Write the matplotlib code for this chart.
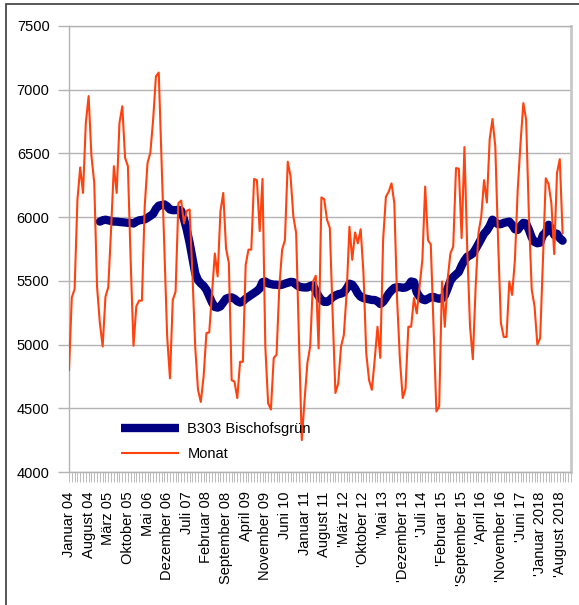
import matplotlib
matplotlib.use("Agg")
import matplotlib.pyplot as plt
from matplotlib.patches import Rectangle
from matplotlib.lines import Line2D
from matplotlib.ticker import MultipleLocator, FixedLocator
import numpy as np

plt.rcParams['font.family'] = ['Liberation Sans', 'DejaVu Sans']

# Monthly values, January 2004 .. September 2018
monat = [
    4800, 5370, 5435, 6135, 6390, 6190, 6740, 6950, 6480, 6270, 5455, 5170,
    4985, 5375, 5450, 5900, 6400, 6190, 6740, 6870, 6465, 6400, 5650, 4990,
    5300, 5345, 5345, 6085, 6425, 6505, 6765, 7105, 7135, 6450, 5770, 5065,
    4735, 5350, 5415, 6110, 6130, 5950, 6050, 6060, 5560, 4985, 4645, 4550,
    4750, 5090, 5095, 5400, 5715, 5535, 6045, 6190, 5755, 5640, 4720, 4710,
    4580, 4865, 4865, 5625, 5745, 5745, 6300, 6290, 5890, 6300, 4985, 4540,
    4490, 4895, 4920, 5455, 5745, 5820, 6435, 6320, 6005, 5875, 5035, 4250,
    4565, 4855, 4985, 5495, 5540, 4970, 6155, 6140, 5980, 5915, 5245, 4620,
    4695, 4985, 5075, 5405, 5925, 5665, 5880, 5795, 5905, 5560, 4930, 4720,
    4645, 4880, 5140, 4895, 5820, 6160, 6200, 6265, 6110, 5350, 4880, 4580,
    4655, 5140, 5140, 5365, 5245, 5455, 5665, 6240, 5820, 5785, 5140, 4475,
    4515, 5495, 5140, 5510, 5715, 5770, 6385, 6380, 5835, 6550, 5750, 5140,
    4885, 5455, 5875, 6005, 6290, 6115, 6610, 6770, 6555, 5820, 5170, 5060,
    5060, 5495, 5390, 5665, 6215, 6580, 6895, 6765, 6005, 5430, 5300, 5000,
    5050, 5665, 6305, 6260, 6110, 5710, 6345, 6455, 5875,
]

# Moving average series "B303 Bischofsgrün", starting December 2004
trend_start = 11
b303 = [
    5965, 5975, 5980, 5975, 5970, 5965, 5965, 5962, 5960, 5958, 5955, 5955,
    5950, 5965, 5975, 5978, 5982, 5995, 6010, 6025, 6065, 6090, 6095, 6100,
    6085, 6060, 6055, 6055, 6058, 6050, 5985, 5900, 5800, 5680, 5560, 5505,
    5480, 5460, 5430, 5380, 5330, 5295, 5290, 5300, 5330, 5360, 5368, 5370,
    5360, 5340, 5330, 5340, 5360, 5375, 5390, 5405, 5420, 5440, 5490, 5495,
    5480, 5475, 5470, 5470, 5466, 5470, 5478, 5485, 5492, 5490, 5470, 5455,
    5450, 5448, 5448, 5460, 5466, 5420, 5380, 5350, 5335, 5335, 5350, 5372,
    5385, 5395, 5400, 5410, 5440, 5478, 5470, 5440, 5400, 5375, 5365, 5360,
    5355, 5350, 5350, 5340, 5318, 5335, 5365, 5400, 5425, 5445, 5450, 5450,
    5445, 5448, 5460, 5495, 5490, 5410, 5375, 5355, 5348, 5360, 5372, 5374,
    5365, 5360, 5362, 5385, 5440, 5500, 5530, 5550, 5570, 5620, 5660, 5690,
    5700, 5715, 5750, 5790, 5830, 5870, 5895, 5930, 5980, 5960, 5945, 5945,
    5955, 5960, 5965, 5940, 5905, 5900, 5930, 5955, 5950, 5900, 5840, 5805,
    5795, 5800, 5860, 5880, 5940, 5910, 5860, 5870, 5835, 5815,
]

tick_labels = [
    "Januar 04", "August 04", "März 05", "Oktober 05", "Mai 06", "Dezember 06",
    "Juli 07", "Februar 08", "September 08", "April 09", "November 09", "Juni 10",
    "Januar 11", "August 11", "'März 12", "'Oktober 12", "'Mai 13", "'Dezember 13",
    "'Juli 14", "'Februar 15", "'September 15", "'April 16", "'November 16",
    "'Juni 17", "'Januar 2018", "'August 2018",
]
tick_step = 7
n_categories = 180

W, H = 579, 605
fig = plt.figure(figsize=(W / 100, H / 100), dpi=100)
fig.patch.set_facecolor('white')

# outer frame
fig.patches.append(Rectangle((6 / W, -0.02), 1.1, 1 - 4 / H + 0.02, transform=fig.transFigure,
                             fill=False, edgecolor='#3a3a3a', linewidth=1.2, zorder=0))

ax = fig.add_axes([69 / W, 1 - 472 / H, (571 - 69) / W, (472 - 26) / H])

grid_c = '#b3b3b3'
blue_c = '#000080'
red_c = '#ff420e'
x_m = np.arange(len(monat))
x_b = np.arange(trend_start, trend_start + len(b303))

ax.plot(x_b, b303, color=blue_c, linewidth=6.0, solid_joinstyle='round',
        solid_capstyle='round', zorder=3)
ax.plot(x_m, monat, color=red_c, linewidth=1.5, solid_joinstyle='round', zorder=4)

ax.set_xlim(0, n_categories - 1)
ax.set_ylim(4000, 7500)
ax.set_yticks(np.arange(4000, 7501, 500))
ax.set_yticklabels([str(v) for v in range(4000, 7501, 500)])
ax.yaxis.grid(True, color=grid_c, linewidth=1.0)
ax.set_axisbelow(True)

ax.xaxis.set_major_locator(FixedLocator(np.arange(len(tick_labels)) * tick_step))
ax.set_xticklabels(tick_labels, rotation=90, ha='center', va='top')
ax.xaxis.set_minor_locator(MultipleLocator(1))

ax.tick_params(axis='y', length=8, width=1, color=grid_c, pad=6, labelsize=10.5, labelcolor='black')
ax.tick_params(axis='x', which='both', length=7, width=0.6, color=grid_c, pad=7,
               labelsize=10.5, labelcolor='black')

for side in ['left', 'bottom', 'top']:
    ax.spines[side].set_color(grid_c)
    ax.spines[side].set_linewidth(1.0)
ax.spines['right'].set_color('#c8c8c8')
ax.spines['right'].set_linewidth(2.0)

h1 = Line2D([], [], color=blue_c, linewidth=6.0, solid_capstyle='butt')
h2 = Line2D([], [], color=red_c, linewidth=1.5, solid_capstyle='butt')
leg = ax.legend(handles=[h1, h2], labels=['B303 Bischofsgrün', 'Monat'],
                loc='upper left', bbox_to_anchor=(121 / W, 1 - 422 / H),
                bbox_transform=fig.transFigure, frameon=False, fontsize=10.5,
                handlelength=4.0, handletextpad=0.55, labelspacing=0.78, borderpad=0,
                borderaxespad=0)
for t in leg.get_texts():
    t.set_color('black')

fig.savefig('out.png', dpi=100, facecolor='white')
